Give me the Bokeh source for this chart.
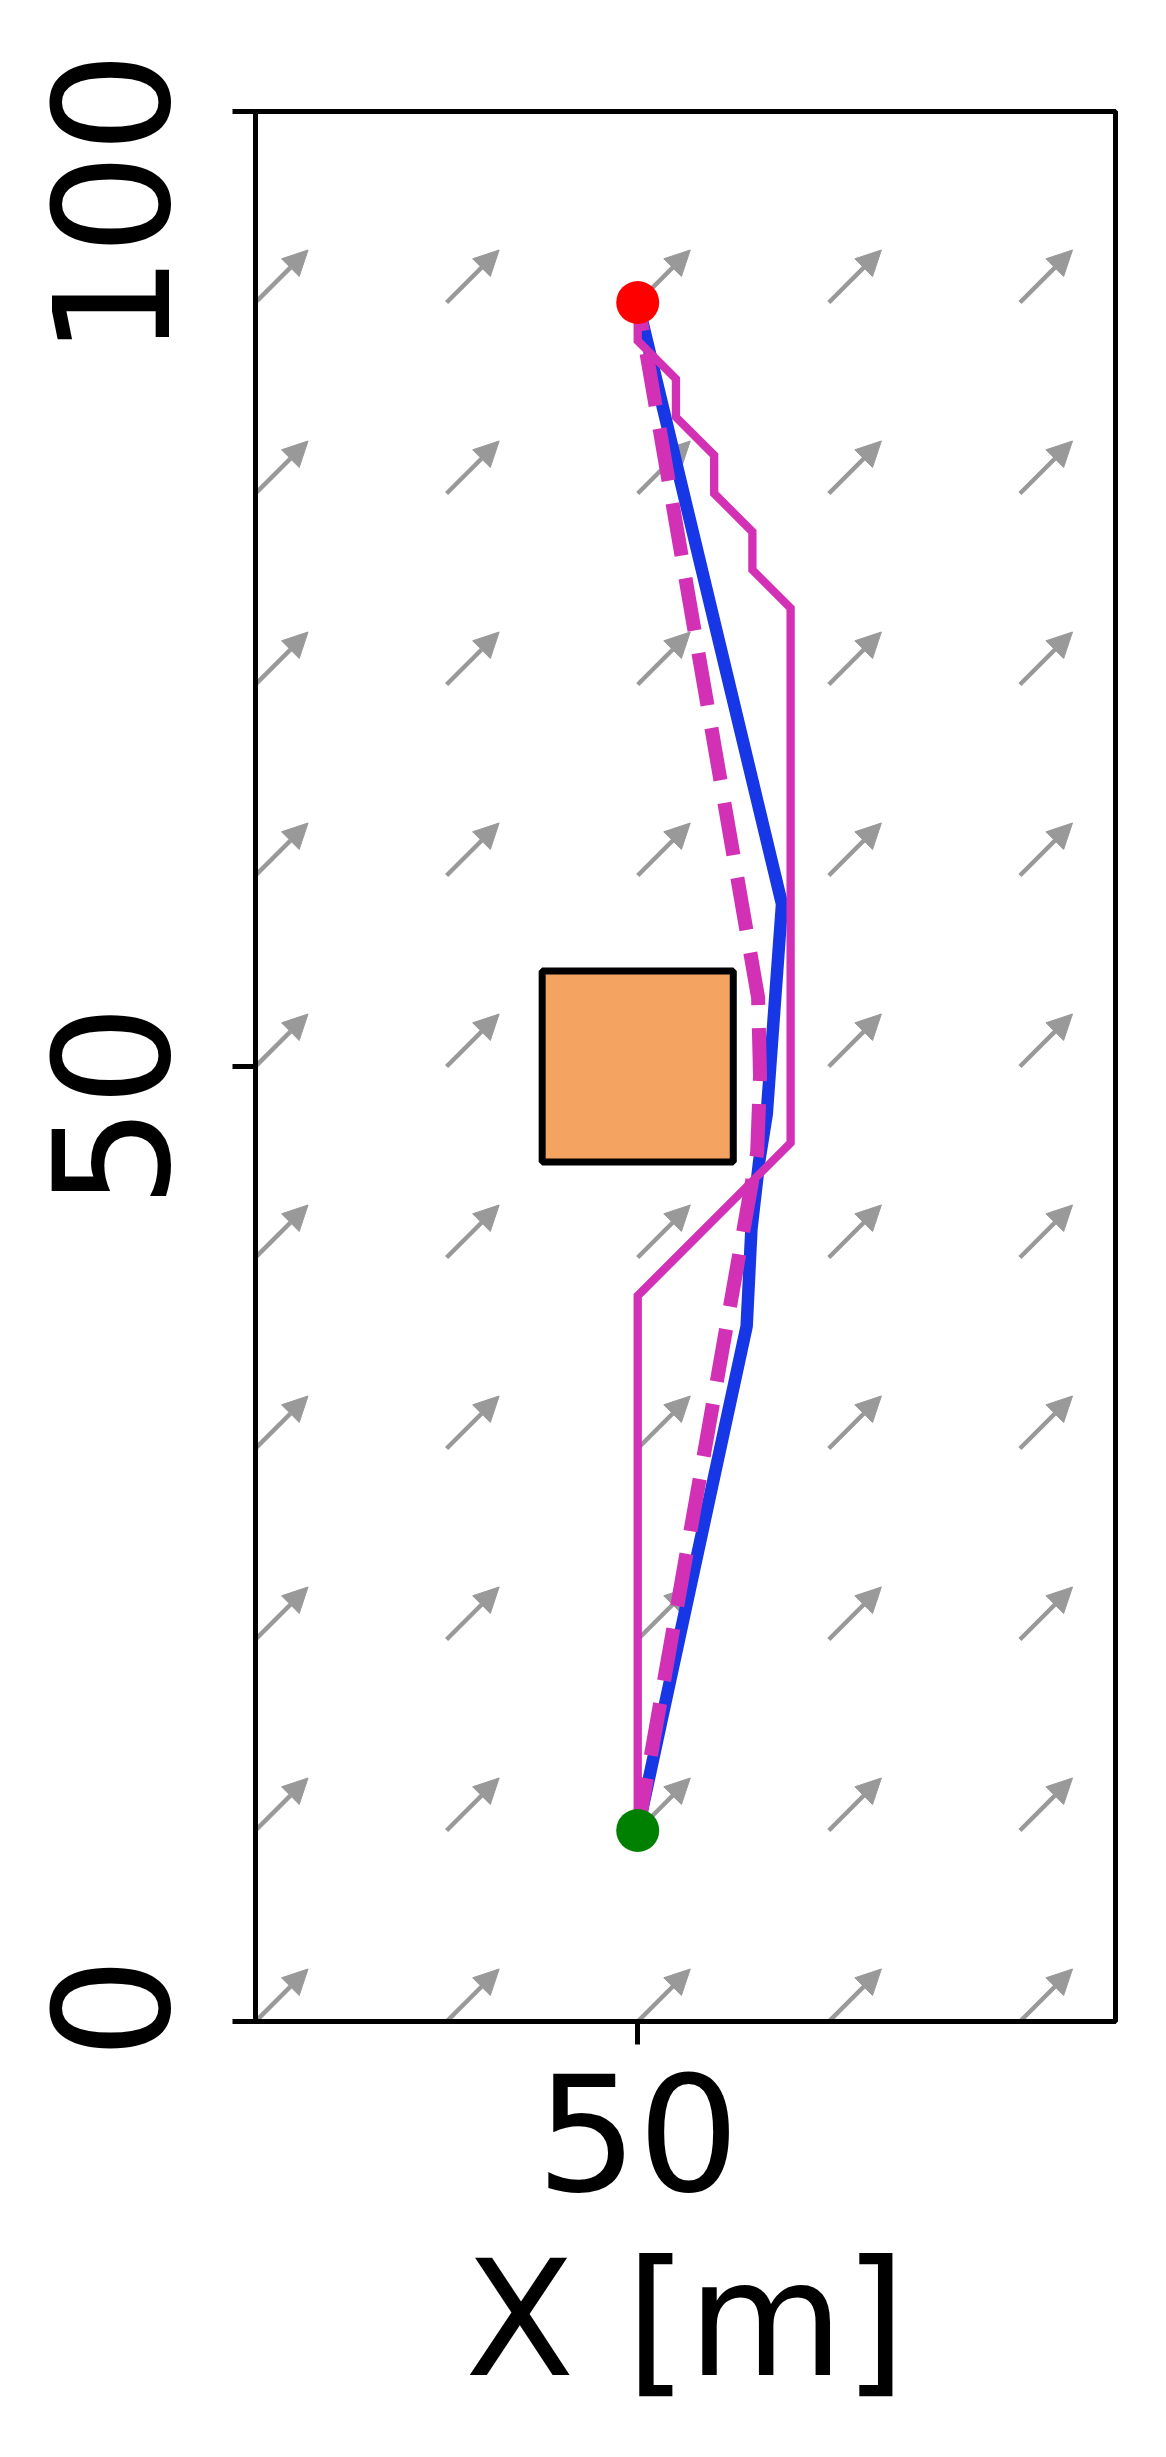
from bokeh.plotting import figure
from bokeh.models import (Arrow, NormalHead, ColumnDataSource, Range1d,
                          FixedTicker)
from bokeh.embed import file_html
from bokeh.resources import INLINE

# ---------------- data ----------------
# wind / flow field (quiver)
quiver_x = [30, 40, 50, 60, 70]
quiver_y = [0, 10, 20, 30, 40, 50, 60, 70, 80, 90]
quiver_u = 2.75
quiver_v = 2.75

# obstacle (square)
obstacle_left = [45]
obstacle_right = [55]
obstacle_bottom = [45]
obstacle_top = [55]

# start / goal
start_x = [50]
start_y = [10]
goal_x = [50]
goal_y = [90]

# blue path (solid, thick)
blue_x = [50, 55.7, 55.95, 56.35, 56.75, 57.55, 50]
blue_y = [10, 36.4, 41.5, 45.0, 47.5, 58.5, 90]

# magenta grid path (thin, solid)
grid_x = [50, 50, 58, 58, 56, 56, 54, 54, 52, 52, 50, 50]
grid_y = [10, 38, 46, 74, 76, 78, 80, 82, 84, 86, 88, 90]

# magenta smoothed path (thick, dashed)
smooth_x = [50, 56.25, 56.4, 56.3, 50]
smooth_y = [10, 45.5, 49.5, 53.6, 90]

# axis ticks (y labels sit slightly off-centre on their ticks, as in the figure)
x_ticks = [50]
y_ticks = [0, 50, 100]
y_tick_labels = ["\u20060", "50\u2002", "100\u00a0"]

FONT = "DejaVu Sans"
FS = "160px"

p = figure(frame_width=860, frame_height=1910,
           x_range=Range1d(30, 75), y_range=Range1d(0, 100),
           output_backend="svg", toolbar_location=None,
           min_border_left=255, min_border_top=111,
           min_border_right=44, min_border_bottom=420)

p.background_fill_color = "white"
p.border_fill_color = "white"
p.grid.visible = False
p.outline_line_color = "black"
p.outline_line_width = 5

for ax in (p.xaxis, p.yaxis):
    ax.axis_line_width = 5
    ax.axis_line_color = "black"
    ax.major_tick_in = 0
    ax.major_tick_out = 23
    ax.major_tick_line_width = 5
    ax.minor_tick_line_color = None
    ax.major_label_text_font = FONT
    ax.major_label_text_font_size = FS
    ax.major_label_text_color = "black"

p.xaxis.ticker = FixedTicker(ticks=x_ticks)
p.xaxis.major_label_standoff = 28
p.xaxis.axis_label = "X [m]"
p.xaxis.axis_label_text_font = FONT
p.xaxis.axis_label_text_font_size = FS
p.xaxis.axis_label_text_font_style = "normal"
p.xaxis.axis_label_text_color = "black"
p.xaxis.axis_label_standoff = 32

p.yaxis.ticker = FixedTicker(ticks=y_ticks)
p.yaxis.major_label_overrides = {t: s for t, s in zip(y_ticks, y_tick_labels)}
p.yaxis.major_label_orientation = "vertical"
p.yaxis.major_label_standoff = 26

# quiver arrows (beneath everything else)
qx0, qy0, qx1, qy1 = [], [], [], []
for yy in quiver_y:
    for xx in quiver_x:
        qx0.append(xx)
        qy0.append(yy)
        qx1.append(xx + quiver_u)
        qy1.append(yy + quiver_v)
qsrc = ColumnDataSource(dict(x0=qx0, y0=qy0, x1=qx1, y1=qy1))
arrows = Arrow(end=NormalHead(size=25, fill_color="#999999",
                              line_color="#999999", line_width=1),
               x_start="x0", y_start="y0", x_end="x1", y_end="y1",
               source=qsrc, line_color="#999999", line_width=4.5,
               level="underlay")
p.add_layout(arrows)

# obstacle
p.quad(left=obstacle_left, right=obstacle_right, bottom=obstacle_bottom,
       top=obstacle_top, fill_color="#F4A460", line_color="black",
       line_width=7)

# paths
p.line(blue_x, blue_y, line_color="#1737E6", line_width=12.5, line_join="round")
p.line(grid_x, grid_y, line_color="#D331B5", line_width=8.3, line_join="miter")
p.line(smooth_x, smooth_y, line_color="#D331B5", line_width=14,
       line_dash="53 23", line_cap="butt")

# start and goal
p.scatter(start_x, start_y, size=43, fill_color="green", line_color=None)
p.scatter(goal_x, goal_y, size=43, fill_color="red", line_color=None)

open("out.html", "w").write(file_html(p, INLINE))
